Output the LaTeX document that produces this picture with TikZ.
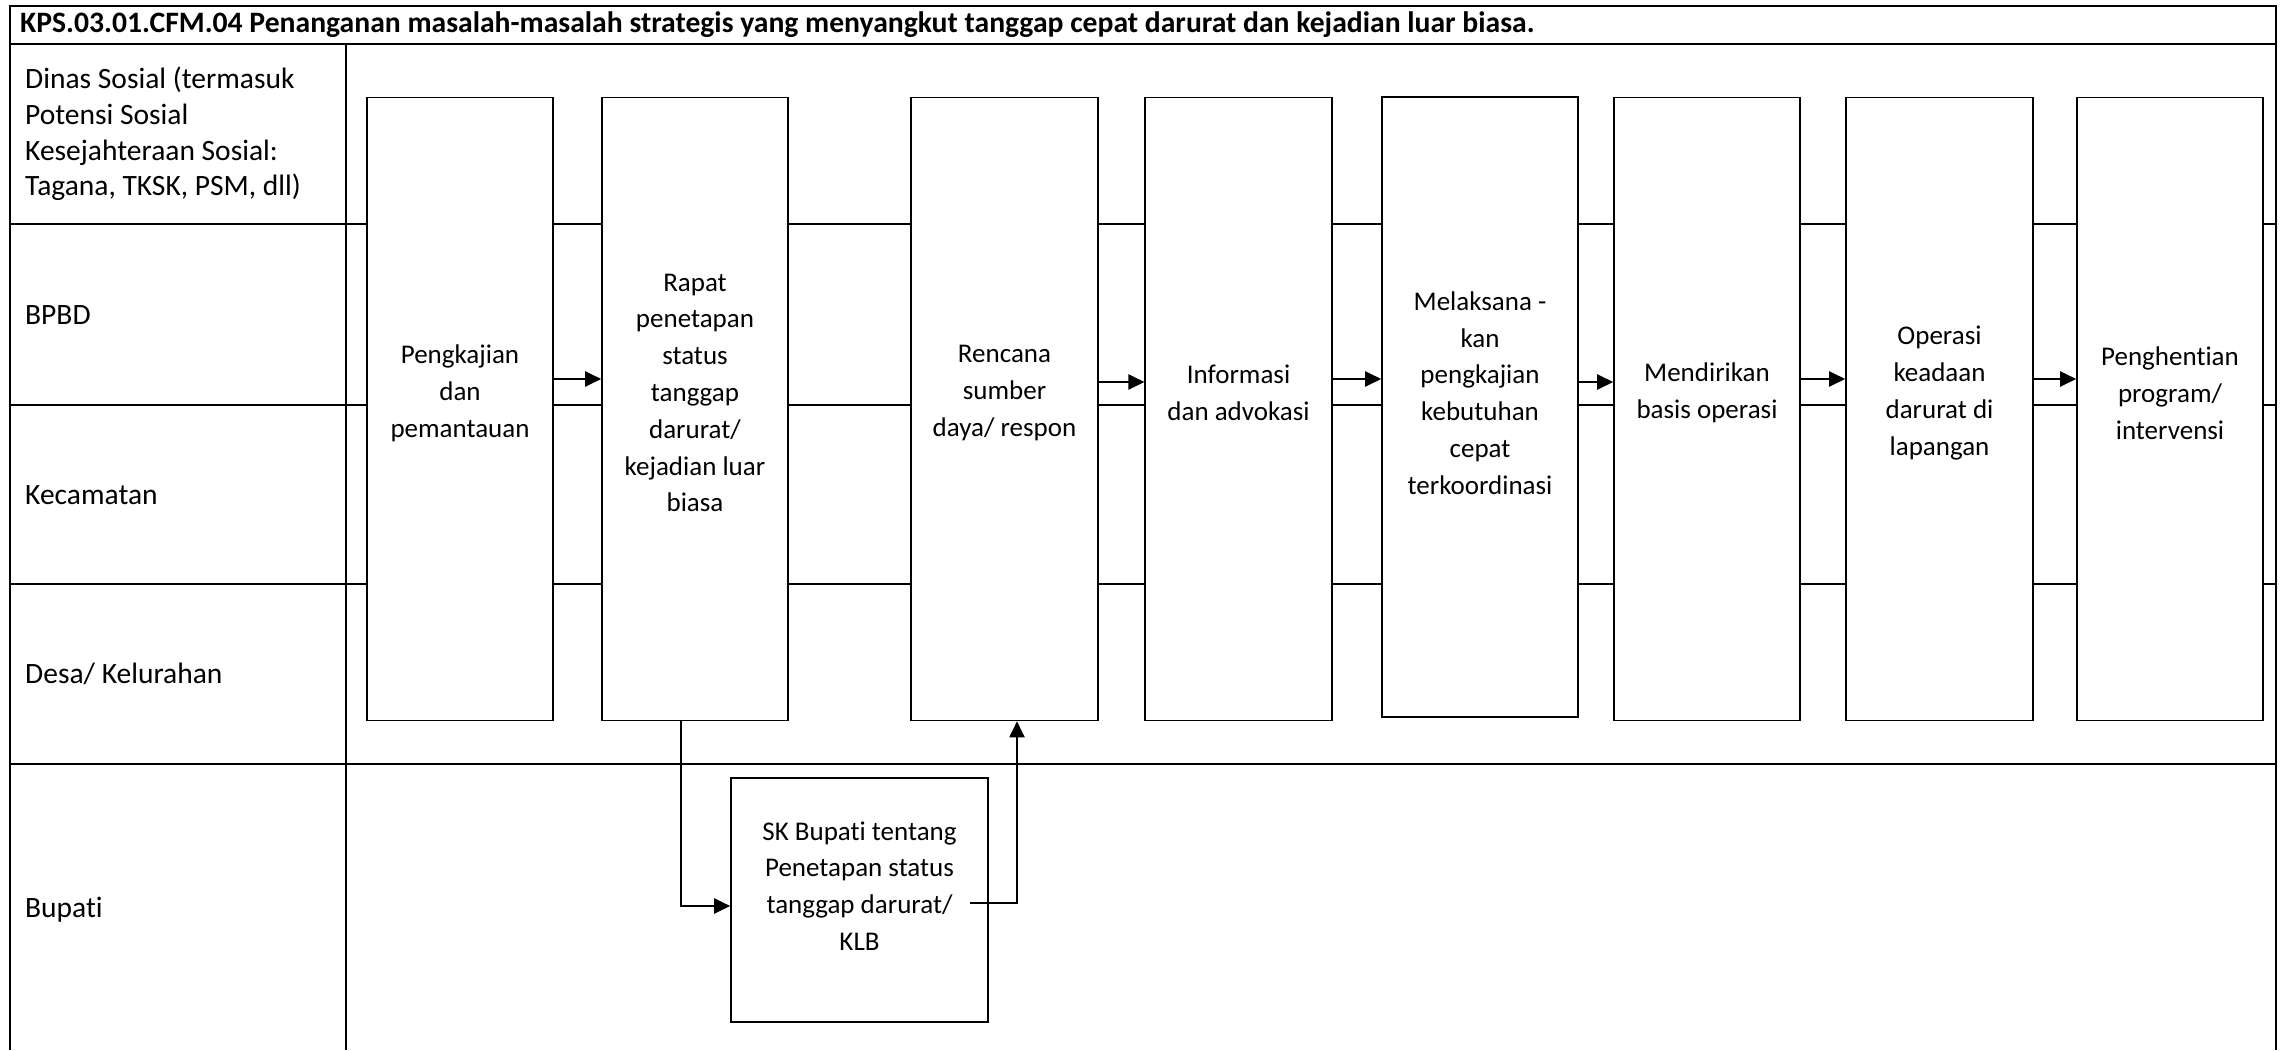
\documentclass[tikz,border=0pt]{standalone}
\usepackage{fontspec}
\setmainfont{Carlito}[Ligatures=NoCommon]
\usetikzlibrary{arrows.meta,calc}
\begin{document}
\begin{tikzpicture}[x=1pt,y=-1pt,
  lane/.style={line width=2pt},
  box/.style={draw, line width=1.6pt, fill=white, rectangle, inner sep=0pt},
  arr/.style={line width=2.2pt, -{Triangle[length=16pt,width=15pt]}},
  conn/.style={line width=2pt},
  lbl/.style={align=left, anchor=west, font=\fontsize{29.5}{35.7}\selectfont, inner sep=0pt},
  btxt/.style={align=center, font=\fontsize{27}{36.8}\selectfont, inner sep=0pt}
]
\useasboundingbox (0,0) rectangle (2284,1050);
\fill[white] (0,0) rectangle (2284,1050);

% frame and lanes
\draw[lane] (10,1050) -- (10,6) -- (2276,6) -- (2276,1050);
\draw[lane] (10,44) -- (2276,44);
\draw[lane] (346,44) -- (346,1050);
\foreach \y in {224,405,584,764} \draw[lane] (10,\y) -- (2276,\y);

% title
\node[anchor=west, font=\bfseries\fontsize{29.65}{32}\selectfont, inner sep=0pt] (title) at (20,25)
  {KPS.03.01.CFM.04 Penanganan masalah-masalah strategis yang menyangkut tanggap cepat darurat dan kejadian luar biasa.};

% lane labels
\node[lbl] (l1) at (25,134) {Dinas Sosial (termasuk\\Potensi Sosial\\Kesejahteraan Sosial:\\Tagana, TKSK, PSM, dll)};
\node[lbl] (l2) at (25,315) {BPBD};
\node[lbl] (l3) at (25,495) {Kecamatan};
\node[lbl] (l4) at (25,674) {Desa/ Kelurahan};
\node[lbl] (l5) at (25,910) {Bupati};

% process boxes
\node[box, minimum width=186.5pt, minimum height=623pt,
  label={[btxt,yshift=16pt]center:{Pengkajian\\dan\\pemantauan}}] (b1) at (460,409) {};
\node[box, minimum width=186pt, minimum height=623pt,
  label={[btxt,yshift=16pt]center:{Rapat\\penetapan\\status\\tanggap\\darurat/\\kejadian luar\\biasa}}] (b2) at (695,409) {};
\node[box, minimum width=187pt, minimum height=623pt,
  label={[btxt,yshift=16pt]center:{Rencana\\sumber\\daya/ respon}}] (b3) at (1004.5,409) {};
\node[box, minimum width=186.5pt, minimum height=623pt,
  label={[btxt,yshift=16pt]center:{Informasi\\dan advokasi}}] (b4) at (1238.5,409) {};
\node[box, minimum width=196pt, minimum height=619.5pt,
  label={[btxt,yshift=14pt]center:{Melaksana -\\kan\\pengkajian\\kebutuhan\\cepat\\terkoordinasi}}] (b5) at (1480,407) {};
\node[box, minimum width=186pt, minimum height=623pt,
  label={[btxt,yshift=16pt]center:{Mendirikan\\basis operasi}}] (b6) at (1707,409) {};
\node[box, minimum width=187pt, minimum height=623pt,
  label={[btxt,yshift=16pt]center:{Operasi\\keadaan\\darurat di\\lapangan}}] (b7) at (1939.5,409) {};
\node[box, minimum width=186pt, minimum height=623pt,
  label={[btxt,yshift=16pt]center:{Penghentian\\program/\\intervensi}}] (b8) at (2170,409) {};

\node[box, minimum width=257pt, minimum height=244pt,
  label={[btxt,yshift=14pt]center:{SK Bupati tentang\\Penetapan status\\tanggap darurat/\\KLB}}] (sk) at (859.5,900) {};

% horizontal flow arrows
\coordinate (ya) at (0,379);
\coordinate (yb) at (0,382);
\draw[arr] (b1.east |- ya) -- (b2.west |- ya);
\draw[arr] (b3.east |- yb) -- (b4.west |- yb);
\draw[arr] (b4.east |- ya) -- (b5.west |- ya);
\draw[arr] (b5.east |- yb) -- (b6.west |- yb);
\draw[arr] (b6.east |- ya) -- (b7.west |- ya);
\draw[arr] (b7.east |- ya) -- (b8.west |- ya);

% connectors through SK Bupati
\coordinate (c1) at (681,906);
\draw[conn, -{Triangle[length=16pt,width=15pt]}] (b2.south -| c1) -- (c1) -- (sk.west |- c1);
\coordinate (c2) at (970,903);
\coordinate (c3) at (1017,903);
\draw[conn, -{Triangle[length=16pt,width=15pt]}] (c2) -- (c3) -- (b3.south -| c3);
\end{tikzpicture}
\end{document}
